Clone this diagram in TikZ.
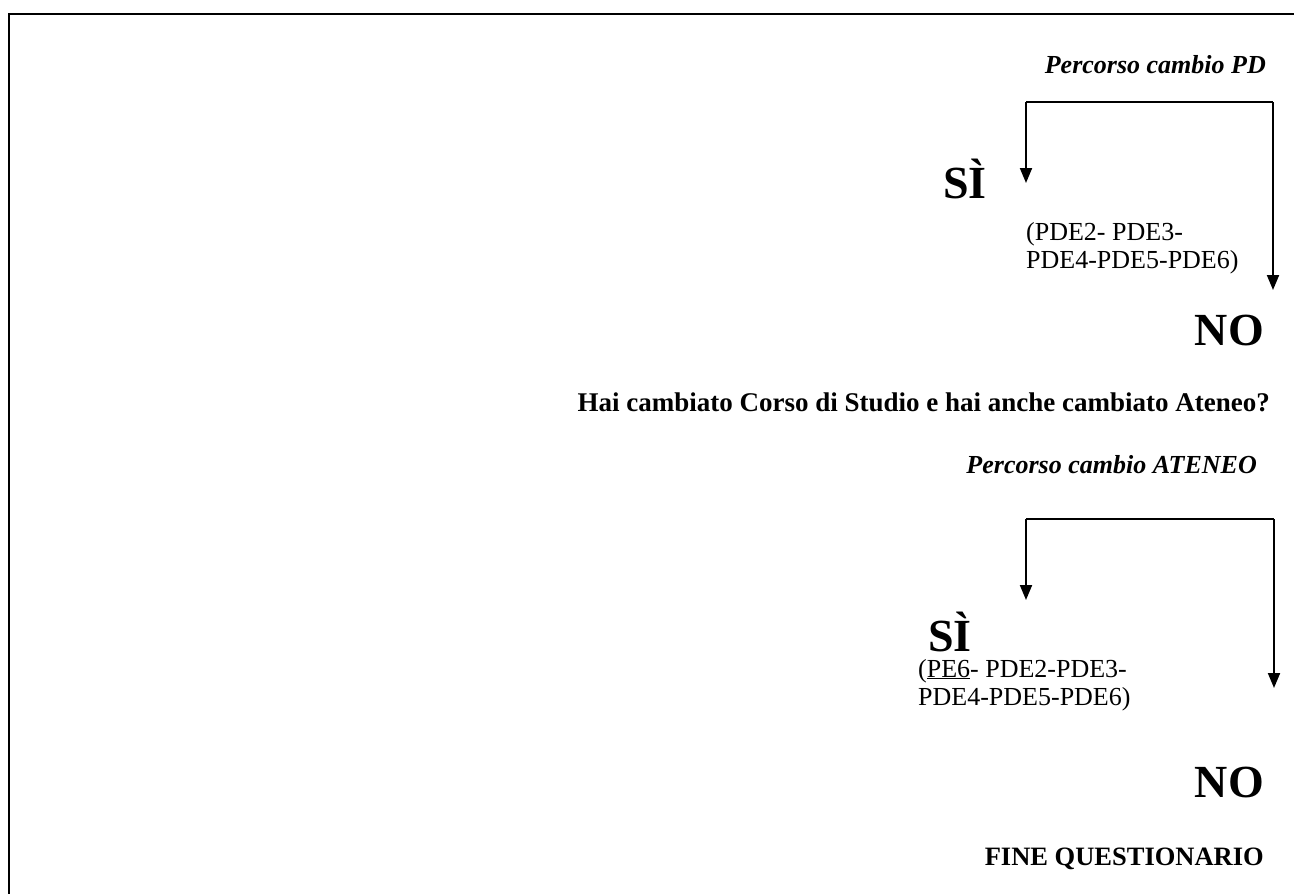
\documentclass[tikz,border=0pt]{standalone}
\usepackage{fontspec}
\setmainfont{Liberation Serif}
\usetikzlibrary{arrows.meta}
\begin{document}
\begin{tikzpicture}[x=1pt,y=-1pt,
  conn/.style={line width=2pt,-{Triangle[length=15pt,width=12pt]}},
  big/.style={font=\fontsize{46}{46}\selectfont\bfseries, inner sep=0pt, text depth=0pt},
  head/.style={font=\fontsize{26}{26}\selectfont\bfseries\itshape, inner sep=0pt},
  question/.style={font=\fontsize{27}{27}\selectfont\bfseries, inner sep=0pt},
  codes/.style={font=\fontsize{26}{28}\selectfont, inner sep=0pt, align=left}]
\useasboundingbox (0,0) rectangle (1294,894);
% frame
\draw[line width=2pt] (9,894) -- (9,14) -- (1294,14);

% first question: change of degree programme
\node[head, anchor=base east] (hpd) at (1266,73) {Percorso cambio PD};
\coordinate (pdl) at (1026,102);
\coordinate (pdr) at (1273,102);
\coordinate (pdltip) at (1026,183);
\coordinate (pdrtip) at (1273,290);
\draw[line width=2pt] (pdl) -- (pdr);
\draw[conn] (pdl) -- (pdltip);
\draw[conn] (pdr) -- (pdrtip);
\node[big, anchor=base] (si1) at (965,198) {SÌ};
% base anchor of a two-line node sits on its last line
\node[codes, anchor=base west] (c1) at (1026,268) {(PDE2- PDE3-\\PDE4-PDE5-PDE6)};
\node[big, anchor=base east] (no1) at (1264,345) {NO};

\node[question, anchor=base east] (q) at (1270,411) {Hai cambiato Corso di Studio e hai anche cambiato Ateneo?};

% second question: change of university
\node[head, anchor=base east] (hat) at (1257,473) {Percorso cambio ATENEO};
\coordinate (atl) at (1026,519);
\coordinate (atr) at (1274,519);
\coordinate (atltip) at (1026,600);
\coordinate (atrtip) at (1274,688);
\draw[line width=2pt] (atl) -- (atr);
\draw[conn] (atl) -- (atltip);
\draw[conn] (atr) -- (atrtip);
\node[big, anchor=base] (si2) at (950,651) {SÌ};
\node[codes, anchor=base west] (c2) at (918,705) {(\underline{PE6}- PDE2-PDE3-\\PDE4-PDE5-PDE6)};
\node[big, anchor=base east] (no2) at (1264,797) {NO};

\node[question, font=\fontsize{26.5}{26.5}\selectfont\bfseries, anchor=base east] (fine) at (1264,865) {FINE QUESTIONARIO};
\end{tikzpicture}
\end{document}
